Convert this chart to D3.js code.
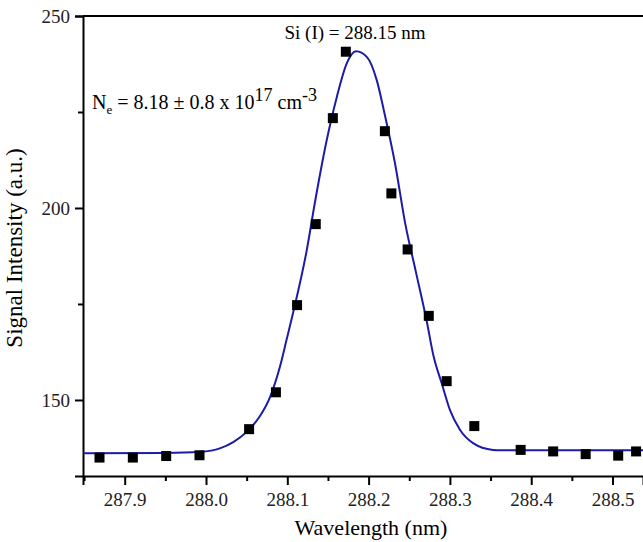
<!DOCTYPE html>
<html>
<head>
<meta charset="utf-8">
<script src="https://cdn.jsdelivr.net/npm/d3@7"></script>
<style>
  body { margin: 0; background: #fff; }
  text { font-family: "Liberation Serif", "Times New Roman", serif; }
</style>
</head>
<body>
<svg id="chart" width="643" height="542"></svg>
<script>
// measured points (wavelength nm, intensity a.u.)
var wavelength = [287.869, 287.910, 287.951, 287.992, 288.053, 288.086, 288.112, 288.135, 288.156, 288.172,
                  288.220, 288.228, 288.248, 288.274, 288.296, 288.330, 288.387, 288.427, 288.467, 288.507, 288.529];
var intensity = [135.0, 135.0, 135.4, 135.6, 142.4, 152.0, 174.7, 195.8, 223.4, 240.7,
                 220.0, 203.8, 189.2, 171.9, 154.9, 143.2, 137.0, 136.6, 135.9, 135.5, 136.6];

// fitted profile
var fitX = [287.849, 287.950, 287.993, 288.017, 288.034, 288.050, 288.066, 288.079, 288.091, 288.099,
            288.107, 288.124, 288.134, 288.148, 288.161, 288.173, 288.1845, 288.198, 288.210, 288.220,
            288.2325, 288.245, 288.258, 288.2715, 288.280, 288.290, 288.300, 288.3125, 288.329, 288.353,
            288.362, 288.538];
var fitY = [136.1, 136.2, 136.5, 137.4, 139.1, 141.7, 145.7, 150.9, 158.7, 165.6,
            172.6, 189.1, 201.5, 217.2, 229.0, 237.6, 240.8, 239.3, 233.3, 224.2,
            211.6, 196.0, 183.5, 170.5, 161.3, 154.3, 147.4, 142.2, 138.7, 137.0,
            136.9, 136.9];

var xMajor = [287.9, 288.0, 288.1, 288.2, 288.3, 288.4, 288.5];
var xMinor = [287.85, 287.95, 288.05, 288.15, 288.25, 288.35, 288.45];
var yMajor = [150, 200, 250];
var yMinor = [175, 225];

var svg = d3.select("#chart");
var mLeft = 83, mRight = 643, mTop = 16, mBottom = 476;

var x = d3.scaleLinear().domain([287.8487, 288.5375]).range([mLeft, mRight]);
var y = d3.scaleLinear().domain([130.2, 250]).range([mBottom, mTop]);

// axes
svg.append("g")
  .attr("transform", "translate(0," + mBottom + ")")
  .call(d3.axisBottom(x).tickValues(xMinor).tickSize(5).tickFormat(""))
  .call(g => g.select(".domain").remove());
var gx = svg.append("g")
  .attr("transform", "translate(0," + mBottom + ")")
  .call(d3.axisBottom(x).tickValues(xMajor).tickSize(9).tickPadding(8).tickFormat(d3.format(".1f")));
gx.selectAll("text").attr("font-size", 19).attr("fill", "#222");

svg.append("g")
  .attr("transform", "translate(" + mLeft + ",0)")
  .call(d3.axisLeft(y).tickValues(yMinor).tickSize(5).tickFormat(""))
  .call(g => g.select(".domain").remove());
var gy = svg.append("g")
  .attr("transform", "translate(" + mLeft + ",0)")
  .call(d3.axisLeft(y).tickValues(yMajor).tickSize(8).tickPadding(5));
gy.selectAll("text").attr("font-size", 19).attr("fill", "#222");

svg.selectAll(".domain").attr("stroke-width", 2);
svg.selectAll(".tick line").attr("stroke-width", 2);

// top frame line
svg.append("line")
  .attr("x1", mLeft).attr("x2", mRight).attr("y1", mTop).attr("y2", mTop)
  .attr("stroke", "#000").attr("stroke-width", 2);

// fit curve
var fit = fitX.map((d, i) => [d, fitY[i]]);
svg.append("path")
  .datum(fit)
  .attr("fill", "none")
  .attr("stroke", "#1c1ca6")
  .attr("stroke-width", 2)
  .attr("d", d3.line().x(d => x(d[0])).y(d => y(d[1])).curve(d3.curveMonotoneX));

// data squares
var s = 10;
svg.selectAll("rect.pt")
  .data(wavelength)
  .enter().append("rect")
  .attr("class", "pt")
  .attr("x", (d) => x(d) - s / 2)
  .attr("y", (d, i) => y(intensity[i]) - s / 2)
  .attr("width", s).attr("height", s)
  .attr("fill", "#000");

// labels
svg.append("text")
  .attr("x", 355).attr("y", 39)
  .attr("text-anchor", "middle").attr("font-size", 19)
  .text("Si (I) = 288.15 nm");

var ne = svg.append("text").attr("x", 92).attr("y", 109).attr("font-size", 20);
ne.append("tspan").text("N");
ne.append("tspan").attr("font-size", 13).attr("dy", 5).text("e");
ne.append("tspan").attr("dy", -5).text(" = 8.18 \u00b1 0.8 x 10");
ne.append("tspan").attr("font-size", 18).attr("dy", -8).text("17");
ne.append("tspan").attr("dy", 8).text(" cm");
ne.append("tspan").attr("font-size", 18).attr("dy", -8).text("-3");

svg.append("text")
  .attr("x", 371).attr("y", 535)
  .attr("text-anchor", "middle").attr("font-size", 22)
  .text("Wavelength (nm)");

svg.append("text")
  .attr("transform", "translate(22,248) rotate(-90)")
  .attr("text-anchor", "middle").attr("font-size", 23)
  .text("Signal Intensity (a.u.)");
</script>
</body>
</html>
